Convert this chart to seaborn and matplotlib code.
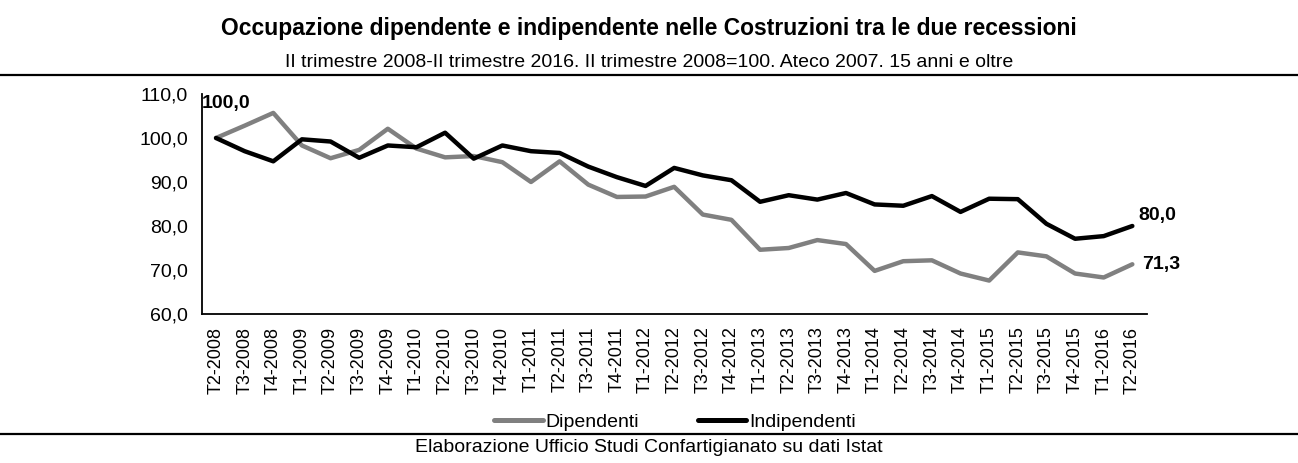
import numpy as np
import pandas as pd
import matplotlib
matplotlib.use('Agg')
import matplotlib.pyplot as plt
import seaborn as sns
from matplotlib.lines import Line2D
from matplotlib import font_manager

quarters = ['T2-2008', 'T3-2008', 'T4-2008', 'T1-2009', 'T2-2009', 'T3-2009', 'T4-2009',
            'T1-2010', 'T2-2010', 'T3-2010', 'T4-2010', 'T1-2011', 'T2-2011', 'T3-2011',
            'T4-2011', 'T1-2012', 'T2-2012', 'T3-2012', 'T4-2012', 'T1-2013', 'T2-2013',
            'T3-2013', 'T4-2013', 'T1-2014', 'T2-2014', 'T3-2014', 'T4-2014', 'T1-2015',
            'T2-2015', 'T3-2015', 'T4-2015', 'T1-2016', 'T2-2016']

dipendenti = [100.0, 102.8, 105.7, 98.3, 95.4, 97.3, 102.1, 97.6, 95.6, 95.9, 94.5,
              90.0, 94.7, 89.4, 86.6, 86.7, 88.9, 82.6, 81.4, 74.6, 75.0, 76.8, 75.9,
              69.8, 72.0, 72.2, 69.2, 67.6, 74.0, 73.1, 69.2, 68.3, 71.3]

indipendenti = [100.0, 97.0, 94.7, 99.7, 99.2, 95.5, 98.3, 97.9, 101.2, 95.3, 98.3,
                97.0, 96.6, 93.5, 91.1, 89.1, 93.2, 91.5, 90.4, 85.5, 87.0, 86.0, 87.5,
                84.9, 84.6, 86.8, 83.2, 86.2, 86.1, 80.5, 77.1, 77.7, 80.0]

series_names = ['Dipendenti', 'Indipendenti']
series_colors = ['#808080', '#000000']

sns.set_style('white')
installed = {f.name for f in font_manager.fontManager.ttflist}
narrow = 'Liberation Sans Narrow' in installed
plt.rcParams['font.family'] = ['Liberation Sans Narrow', 'Liberation Sans', 'DejaVu Sans'] if narrow \
    else ['Liberation Sans', 'DejaVu Sans']
for k in ['text.color', 'axes.labelcolor', 'xtick.color', 'ytick.color']:
    plt.rcParams[k] = 'black'
fs = 15 if narrow else 13.5

df = pd.DataFrame({
    'pos': list(range(len(quarters))) * 2,
    'valore': dipendenti + indipendenti,
    'serie': [series_names[0]] * len(quarters) + [series_names[1]] * len(quarters),
})

fig = plt.figure(figsize=(12.98, 4.63), dpi=100)
ax = fig.add_axes([0.1554, 0.3218, 0.728, 0.4752])

sns.lineplot(data=df, x='pos', y='valore', hue='serie', hue_order=series_names,
             palette=series_colors, linewidth=3.2, legend=False, ax=ax)

ax.set_xlim(-0.5, len(quarters) - 0.5)
ax.set_ylim(60, 110)
ax.set_yticks(np.arange(60, 111, 10))
ax.set_yticklabels([f'{v:.1f}'.replace('.', ',') for v in np.arange(60, 111, 10)], fontsize=fs + 0.5)
ax.set_xticks(np.arange(len(quarters)))
ax.set_xticklabels(quarters, rotation=90, fontsize=fs - 0.5)
ax.set_xticks(np.arange(-0.5, len(quarters)), minor=True)
ax.tick_params(axis='x', which='major', length=0, pad=9)
ax.tick_params(axis='x', which='minor', length=6, width=1.2, color='black', direction='out')
ax.tick_params(axis='y', length=6, width=1.2, color='black', direction='out', pad=4)
ax.set_xlabel('')
ax.set_ylabel('')
for s in ['top', 'right']:
    ax.spines[s].set_visible(False)
for s in ['left', 'bottom']:
    ax.spines[s].set_color('black')
    ax.spines[s].set_linewidth(1.3)

# etichette dei valori
ax.annotate('100,0', (0, dipendenti[0]), xytext=(7, 25), textcoords='offset points',
            ha='center', va='center', fontsize=fs + 0.5, fontweight='bold')
ax.annotate(f'{indipendenti[-1]:.1f}'.replace('.', ','), (len(quarters) - 1, indipendenti[-1]),
            xytext=(4.5, 7.5), textcoords='offset points', ha='left', va='center',
            fontsize=fs + 0.5, fontweight='bold')
ax.annotate(f'{dipendenti[-1]:.1f}'.replace('.', ','), (len(quarters) - 1, dipendenti[-1]),
            xytext=(7, 0), textcoords='offset points', ha='left', va='center',
            fontsize=fs + 0.5, fontweight='bold')

fig.text(0.5, 0.9395, 'Occupazione dipendente e indipendente nelle Costruzioni tra le due recessioni',
         ha='center', va='center', fontsize=fs + 3, fontweight='bold')
fig.text(0.5, 0.866, 'II trimestre 2008-II trimestre 2016. II trimestre 2008=100. Ateco 2007. 15 anni e oltre',
         ha='center', va='center', fontsize=fs + 0.5)
fig.text(0.5, 0.0345, 'Elaborazione Ufficio Studi Confartigianato su dati Istat',
         ha='center', va='center', fontsize=fs + 0.5)

fig.add_artist(Line2D([0, 1], [0.838, 0.838], color='black', linewidth=1.6, transform=fig.transFigure))
fig.add_artist(Line2D([0, 1], [0.0626, 0.0626], color='black', linewidth=1.6, transform=fig.transFigure))

handles = [Line2D([], [], color=c, linewidth=3.6) for c in series_colors]
fig.legend(handles, series_names, loc='center', bbox_to_anchor=(0.52, 0.089), ncol=2,
           frameon=False, fontsize=fs + 0.5, handlelength=2.5, handletextpad=0.15, columnspacing=3.0)

fig.savefig('out.png', dpi=100)
